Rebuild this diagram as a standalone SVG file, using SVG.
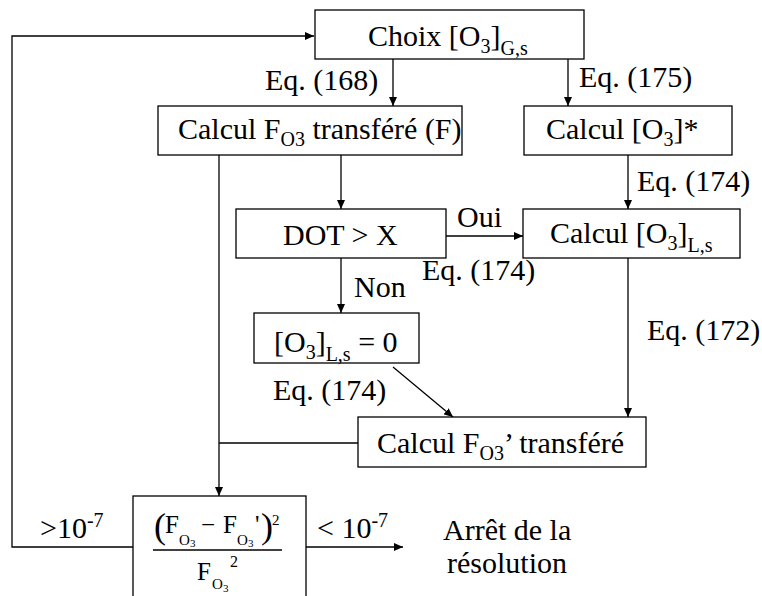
<svg xmlns="http://www.w3.org/2000/svg" width="762" height="596" viewBox="0 0 762 596" font-family="'Liberation Serif', 'Times New Roman', Tinos, 'DejaVu Serif', serif">
<defs>
<marker id="ah" markerUnits="userSpaceOnUse" markerWidth="10" markerHeight="8" refX="9" refY="4" orient="auto">
<path d="M0,0 L9,4 L0,8 Z" fill="#000"/>
</marker>
<style>
text{font-family:'Liberation Serif','Times New Roman',Tinos,'DejaVu Serif',serif;fill:#000;font-size:30px}
.box{fill:#fff;stroke:#000;stroke-width:1.3}
.c{fill:none;stroke:#000;stroke-width:1.3}
.a{marker-end:url(#ah)}
.s{font-size:20px}
.f{font-size:25px}
</style>
</defs>
<rect width="762" height="596" fill="#fff"/>
<g id="connectors">
<polyline class="c a" points="133,547 12,547 12,36 314,36"/>
<line class="c a" x1="393" y1="59" x2="393" y2="106"/>
<line class="c a" x1="568" y1="59" x2="568" y2="106"/>
<line class="c a" x1="341" y1="155" x2="341" y2="209"/>
<line class="c a" x1="219" y1="155" x2="219" y2="496"/>
<line class="c" x1="219" y1="443" x2="358" y2="443"/>
<line class="c a" x1="628" y1="155" x2="628" y2="209"/>
<line class="c a" x1="446" y1="236" x2="523" y2="236"/>
<line class="c a" x1="341" y1="258" x2="341" y2="313"/>
<line class="c a" x1="628" y1="258" x2="628" y2="417"/>
<line class="c a" x1="393" y1="367" x2="453" y2="417"/>
<line class="c a" x1="306" y1="547" x2="403" y2="547"/>
<text x="265" y="90">Eq. (168)</text>
<text x="579" y="87">Eq. (175)</text>
<text x="637" y="191">Eq. (174)</text>
<text x="457" y="227">Oui</text>
<text x="422" y="280">Eq. (174)</text>
<text x="354" y="297">Non</text>
<text x="647" y="340">Eq. (172)</text>
<text x="273" y="400">Eq. (174)</text>
<text x="40" y="538">&gt;10<tspan class="s" dy="-11">-7</tspan></text>
<text x="317" y="538">&lt; 10<tspan class="s" dy="-11">-7</tspan></text>
</g>
<g id="choix">
<rect class="box" x="315" y="10" width="269" height="49"/>
<text x="368" y="46">Choix [O<tspan class="s" dy="7">3</tspan><tspan dy="-7">]</tspan><tspan class="s" dy="9">G,s</tspan></text>
</g>
<g id="calculF">
<rect class="box" x="158" y="106" width="304" height="49"/>
<text x="178" y="139">Calcul F<tspan class="s" dy="7">O3</tspan><tspan dy="-7"> transféré (F)</tspan></text>
</g>
<g id="calculStar">
<rect class="box" x="524" y="106" width="208" height="49"/>
<text x="546" y="139">Calcul [O<tspan class="s" dy="7">3</tspan><tspan dy="-7">]*</tspan></text>
</g>
<g id="dot">
<rect class="box" x="236" y="209" width="210" height="49"/>
<text x="283" y="245">DOT &gt; X</text>
</g>
<g id="calculLs">
<rect class="box" x="523" y="209" width="217" height="49"/>
<text x="550" y="243">Calcul [O<tspan class="s" dy="7">3</tspan><tspan dy="-7">]</tspan><tspan class="s" dy="9">L,s</tspan></text>
</g>
<g id="zero">
<rect class="box" x="254" y="313" width="165" height="50"/>
<text x="274" y="352">[O<tspan class="s" dy="7">3</tspan><tspan dy="-7">]</tspan><tspan class="s" dy="9">L,s</tspan><tspan dy="-9"> = 0</tspan></text>
</g>
<g id="calculFprime">
<rect class="box" x="358" y="417" width="288" height="50"/>
<text x="377" y="453">Calcul F<tspan class="s" dy="7">O3</tspan><tspan dy="-7">’ transféré</tspan></text>
</g>
<g id="formula">
<rect class="box" x="133" y="496" width="173" height="110"/>
<text x="154" y="538" style="font-size:36px">(</text>
<text x="165" y="533" class="f">F</text>
<text x="179" y="545" style="font-size:15px">O</text>
<text x="190" y="547" style="font-size:11px">3</text>
<text x="201" y="533" class="f">−</text>
<text x="223" y="533" class="f">F</text>
<text x="237" y="545" style="font-size:15px">O</text>
<text x="248" y="547" style="font-size:11px">3</text>
<text x="255" y="533" class="f">'</text>
<text x="261" y="538" style="font-size:36px">)</text>
<text x="272" y="525" style="font-size:15px">2</text>
<line class="c" x1="153" y1="550" x2="282" y2="550"/>
<text x="197" y="580" class="f">F</text>
<text x="212" y="589" style="font-size:15px">O</text>
<text x="223" y="592" style="font-size:11px">3</text>
<text x="230" y="567" style="font-size:16px">2</text>
</g>
<g id="arret">
<text x="443" y="540">Arrêt de la</text>
<text x="447" y="573">résolution</text>
</g>
</svg>
